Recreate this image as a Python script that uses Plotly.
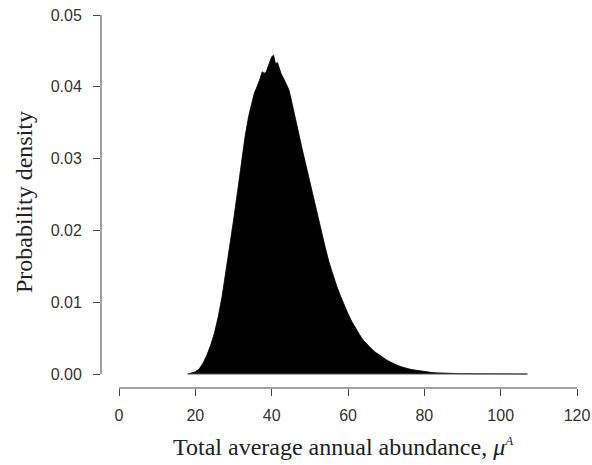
import plotly.graph_objects as go

# Data (histogram-like density of total average annual abundance)
abundance = [18, 19, 20, 21, 22, 23, 24, 25, 26, 27, 28, 29, 30, 31, 32, 33,
             34.0, 34.5, 35.0, 35.5, 36.0, 36.5, 37.0, 37.5, 38.0, 38.5, 39.0, 39.5,
             40.0, 40.5, 41.0, 41.5, 42.0, 42.5, 43.0, 43.5, 44.0, 44.5, 45.0, 45.5, 46.0,
             47, 48, 49, 50, 51, 52, 53, 54, 55, 56, 57, 58, 59, 60, 61, 62, 63, 64, 65,
             66, 67, 68, 69, 70, 71, 72, 73, 74, 75, 76, 77, 78, 79, 80, 81, 82, 83, 84,
             85, 86, 87, 88, 89, 90, 92, 95, 100, 107]
density = [0.0, 0.0001, 0.0003, 0.0007, 0.0015, 0.0026, 0.0040, 0.0057, 0.0080, 0.0108,
           0.0142, 0.0179, 0.0214, 0.0252, 0.0290, 0.0330,
           0.0360, 0.0372, 0.0380, 0.0392, 0.0398, 0.0404, 0.0412, 0.0421, 0.0419, 0.0420,
           0.0427, 0.0436, 0.0442, 0.0444, 0.0432, 0.0434, 0.0424, 0.0418, 0.0413, 0.0407,
           0.0402, 0.0396, 0.0385, 0.0372, 0.0360,
           0.0337, 0.0313, 0.0290, 0.0265, 0.0243, 0.0222, 0.0200, 0.0177, 0.0156, 0.0138,
           0.0123, 0.0109, 0.0096, 0.0084, 0.0073, 0.0063, 0.0055, 0.0047, 0.0041,
           0.0036, 0.0031, 0.0027, 0.0023, 0.0020, 0.0017, 0.0014, 0.0012, 0.0010, 0.0008,
           0.0007, 0.0006, 0.0005, 0.0004, 0.0003, 0.00025, 0.0002, 0.00016, 0.00013,
           0.0001, 0.0001, 0.00008, 0.00006, 0.00005, 0.00004, 0.00003, 0.00002, 0.00001, 0.0]

x_ticks = [0, 20, 40, 60, 80, 100, 120]
y_ticks = [0.00, 0.01, 0.02, 0.03, 0.04, 0.05]
y_tick_labels = ["0.00", "0.01", "0.02", "0.03", "0.04", "0.05"]

W, H = 592, 465
L, R, T, B = 101, 0, 1, 77

fig = go.Figure()
fig.add_trace(go.Scatter(
    x=abundance, y=density, mode="lines", fill="tozeroy",
    fillcolor="black", line=dict(color="black", width=0.8),
    hoverinfo="skip", showlegend=False))
# baseline under the density
fig.add_trace(go.Scatter(
    x=[abundance[0], abundance[-1]], y=[0, 0], mode="lines",
    line=dict(color="#555555", width=1), hoverinfo="skip", showlegend=False))

tick_font = dict(family="Liberation Sans, Arial, sans-serif", size=16, color="#333333")
title_font = dict(family="Liberation Serif, Times New Roman, serif", size=24, color="#222222")

fig.update_layout(
    width=W, height=H,
    margin=dict(l=L, r=R, t=T, b=B, pad=0),
    paper_bgcolor="white", plot_bgcolor="white",
    xaxis=dict(range=[-4.72, 123.92], tickvals=x_ticks, ticktext=[str(v) for v in x_ticks],
               ticks="outside", ticklen=7, tickcolor="#444", tickwidth=1,
               showline=False, showgrid=False, zeroline=False,
               tickfont=tick_font, ticklabelstandoff=6),
    yaxis=dict(range=[-0.00195, 0.05195], tickvals=y_ticks, ticktext=y_tick_labels,
               ticks="outside", ticklen=7, tickcolor="#444", tickwidth=1,
               showline=False, showgrid=False, zeroline=False,
               tickfont=tick_font, ticklabelstandoff=8),
    shapes=[
        dict(type="line", xref="x", yref="paper", x0=x_ticks[0], x1=x_ticks[-1], y0=0, y1=0,
             line=dict(color="#444", width=1)),
        dict(type="line", xref="paper", yref="y", x0=0, x1=0, y0=y_ticks[0], y1=y_ticks[-1],
             line=dict(color="#444", width=1)),
    ],
    annotations=[
        dict(text="Total average annual abundance, <i>μ<sup><span style='font-size:13px'>A</span></sup></i>",
             xref="paper", yref="paper",
             x=(343 - L) / (W - L - R), y=-(446 - (H - B)) / (H - T - B),
             showarrow=False, font=title_font, xanchor="center", yanchor="middle"),
        dict(text="Probability density", xref="paper", yref="paper",
             x=-(L - 24) / (W - L - R), y=1 - (202 - T) / (H - T - B), textangle=-90,
             showarrow=False, font=title_font, xanchor="center", yanchor="middle"),
    ],
)

fig.write_html("out.html")
